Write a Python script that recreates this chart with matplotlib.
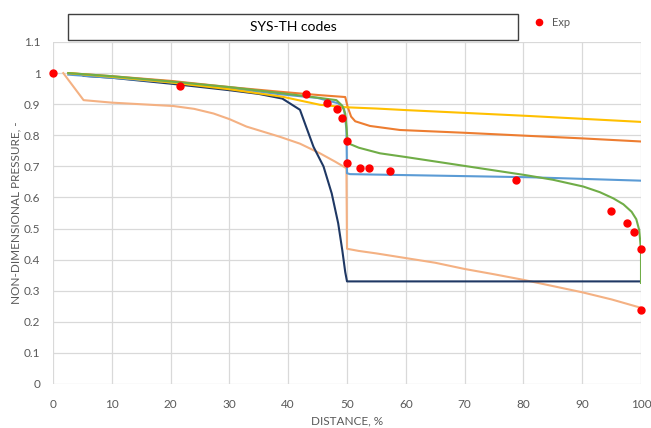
import matplotlib
matplotlib.use("Agg")
import matplotlib.pyplot as plt
from matplotlib.patches import Rectangle
from matplotlib.lines import Line2D

plt.rcParams['font.family'] = ['Lato', 'DejaVu Sans']

# experimental points
exp_x = [0, 21.6, 43, 46.6, 48.3, 49.1, 50, 50, 52.2, 53.7, 57.3, 78.7, 94.9, 97.6, 98.8, 100, 100]
exp_y = [1.0, 0.958, 0.932, 0.903, 0.884, 0.855, 0.782, 0.711, 0.695, 0.695, 0.685, 0.656, 0.556, 0.518, 0.489, 0.434, 0.238]

# code results
light_x = [1.75, 5.2, 10, 20.5, 24, 27.3, 30, 32.9, 38.6, 42, 45.4, 48, 49.9, 50, 52, 55, 60, 65, 70, 75, 80, 85, 90, 95, 100]
light_y = [1.0, 0.913, 0.905, 0.894, 0.885, 0.87, 0.852, 0.828, 0.795, 0.773, 0.742, 0.715, 0.694, 0.435, 0.428, 0.42, 0.405, 0.39, 0.37, 0.353, 0.335, 0.315, 0.295, 0.272, 0.245]

navy_x = [5.2, 10, 20, 30, 35, 39, 42, 43, 44.3, 46, 47.4, 48.5, 49.2, 49.7, 50, 100]
navy_y = [0.991, 0.985, 0.966, 0.945, 0.933, 0.918, 0.882, 0.83, 0.763, 0.7, 0.613, 0.517, 0.43, 0.36, 0.33, 0.33]

blue_x = [2.6, 10, 20, 30, 38.6, 45, 48.5, 49.5, 49.9, 50, 50.5, 81, 100]
blue_y = [0.995, 0.985, 0.97, 0.952, 0.932, 0.92, 0.903, 0.885, 0.82, 0.678, 0.675, 0.665, 0.654]

orange_x = [2.6, 10, 20, 30, 38.6, 45.4, 49.7, 50.1, 50.7, 51.4, 53.9, 59, 70, 81, 90, 100]
orange_y = [1.0, 0.99, 0.975, 0.955, 0.94, 0.929, 0.923, 0.892, 0.86, 0.845, 0.83, 0.817, 0.808, 0.798, 0.79, 0.78]

yellow_x = [2.6, 10, 20, 30, 39, 45.4, 49.9, 55, 60, 70, 81, 90, 100]
yellow_y = [1.0, 0.988, 0.97, 0.948, 0.924, 0.898, 0.89, 0.886, 0.881, 0.872, 0.862, 0.853, 0.843]

green_x = [2.6, 10, 20, 30, 38.6, 45.4, 48.2, 49.2, 49.7, 49.9, 50.1, 52, 55.6, 60, 67, 72.6, 80.3, 85, 90.2, 93, 95.3, 97, 98.4, 99.2, 99.7, 100, 100]
green_y = [1.0, 0.99, 0.973, 0.955, 0.936, 0.92, 0.913, 0.895, 0.87, 0.83, 0.775, 0.76, 0.742, 0.73, 0.71, 0.694, 0.672, 0.657, 0.635, 0.617, 0.597, 0.578, 0.554, 0.53, 0.495, 0.43, 0.325]

fig = plt.figure(figsize=(6.51, 4.28), dpi=100)
ax = fig.add_axes([53/651, 1-384/428, 588/651, 342/428])

lw = 1.5
ax.plot(light_x, light_y, color='#F4B183', lw=lw)
ax.plot(navy_x, navy_y, color='#1F3864', lw=lw)
ax.plot(blue_x, blue_y, color='#5B9BD5', lw=lw)
ax.plot(orange_x, orange_y, color='#ED7D31', lw=lw)
ax.plot(yellow_x, yellow_y, color='#FFC000', lw=lw)
ax.plot(green_x, green_y, color='#70AD47', lw=lw)
ax.plot(exp_x, exp_y, 'o', color='#FF0000', ms=5, zorder=5, clip_on=False)

ax.set_xlim(0, 100)
ax.set_ylim(0, 1.1)
ax.set_xticks(range(0, 101, 10))
ax.set_yticks([i / 10 for i in range(12)])
ax.set_yticklabels(['0', '0.1', '0.2', '0.3', '0.4', '0.5', '0.6', '0.7', '0.8', '0.9', '1', '1.1'])
ax.grid(True, color='#D9D9D9', lw=0.9)
ax.set_axisbelow(True)
for s in ax.spines.values():
    s.set_visible(False)
ax.tick_params(length=0, colors='#595959', labelsize=8.5)
ax.tick_params(axis='x', pad=11)
ax.tick_params(axis='y', pad=9)
ax.set_xlabel('DISTANCE, %', color='#595959', fontsize=8.5, labelpad=4)
ax.set_ylabel('NON-DIMENSIONAL PRESSURE, -', color='#595959', fontsize=8.5, labelpad=2)

# title box
fig.patches.append(Rectangle((68/651, 1-40/428), 450/651, 26/428, transform=fig.transFigure,
                             fill=False, edgecolor='#404040', lw=1.0))
fig.text(293/651, 1-27/428, 'SYS-TH codes', ha='center', va='center', fontsize=10, color='black')

h = Line2D([], [], marker='o', ls='none', color='#FF0000', ms=4.5)
fig.legend(handles=[h], labels=['Exp'], loc='center left', bbox_to_anchor=(518/651, 1-22/428),
           frameon=False, fontsize=8, handletextpad=0.2, labelcolor='#595959')

fig.savefig('out.png', dpi=100)
